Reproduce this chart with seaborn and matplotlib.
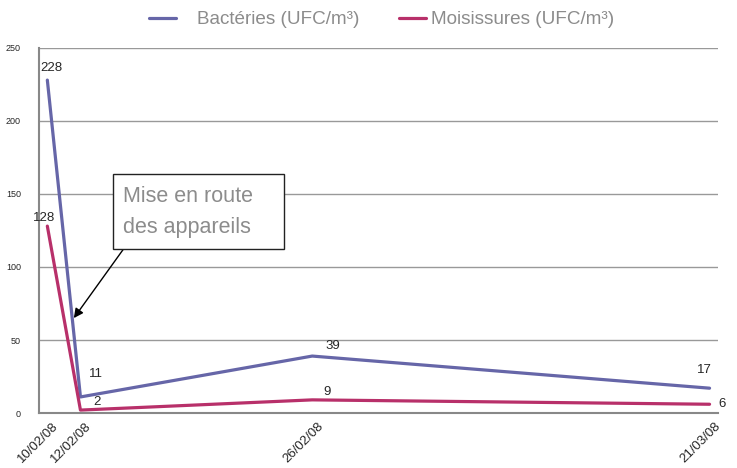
import matplotlib
matplotlib.use("Agg")
import matplotlib.pyplot as plt
import numpy as np
import pandas as pd
import seaborn as sns
from matplotlib.lines import Line2D
from matplotlib.patches import Rectangle

# data
dates = ["10/02/08", "12/02/08", "26/02/08", "21/03/08"]
day_offsets = [0, 2, 16, 40]  # days since 10/02/08
bacteries = [228, 11, 39, 17]
moisissures = [128, 2, 9, 6]
series_names = ["Bactéries (UFC/m³)", "Moisissures (UFC/m³)"]
colors = ["#6666A8", "#B8306A"]

df = pd.DataFrame({
    "jour": day_offsets * 2,
    "valeur": bacteries + moisissures,
    "serie": [series_names[0]] * 4 + [series_names[1]] * 4,
})

sns.set_style("white")
plt.rcParams["font.family"] = ["Liberation Sans", "DejaVu Sans"]
light_color = "#8c8c8c"

fig = plt.figure(figsize=(7.37, 4.68), dpi=100)
ax = fig.add_axes([0.053, 0.1175, 0.921, 0.78])

sns.lineplot(data=df, x="jour", y="valeur", hue="serie", palette=colors,
             linewidth=2.3, ax=ax, legend=False)

ax.set_xlim(-0.5, 40.5)
ax.set_ylim(0, 250)
ax.set_yticks(np.arange(0, 251, 50))
ax.yaxis.grid(True, color="#999999", linewidth=1)
ax.set_axisbelow(True)
ax.tick_params(axis="y", labelsize=6.5, length=0, pad=13)

# tick marks every 2 days, labels only at sample dates
ax.set_xticks(np.arange(-0.5, 40.6, 2))
ax.set_xticklabels([])
ax.tick_params(axis="x", length=4, color="#888888", width=1.2, direction="out")
for d, lab in zip(day_offsets, dates):
    ax.text(d + 0.3, -5, lab, rotation=45, ha="right", va="top",
            rotation_mode="anchor", fontsize=9.5, clip_on=False)

for side in ["top", "right"]:
    ax.spines[side].set_visible(False)
for side in ["left", "bottom"]:
    ax.spines[side].set_color("#888888")
    ax.spines[side].set_linewidth(1.5)
ax.set_xlabel("")
ax.set_ylabel("")

# value labels
offsets_b = [(3, 9), (11.5, 16.5), (15, 7), (-4, 13)]
offsets_m = [(-2, 6), (12, 6), (11, 6), (9, 0.5)]
for vals, offs in [(bacteries, offsets_b), (moisissures, offsets_m)]:
    for d, v, off in zip(day_offsets, vals, offs):
        ax.annotate(str(v), (d, v), xytext=off, textcoords="offset points",
                    ha="center", va="center", fontsize=9.5)

# callout box + arrow
ax.add_patch(Rectangle((3.98, 112.3), 10.3, 51.4, fc="white", ec="#222222",
                       lw=1, zorder=5))
ax.text(4.6, 155.5, "Mise en route\ndes appareils", fontsize=15.5,
        color=light_color, ha="left", va="top", linespacing=1.6, zorder=6)
ax.annotate("", xy=(1.6, 65), xytext=(4.6, 112.3),
            arrowprops=dict(arrowstyle="-|>", color="black", lw=1,
                            shrinkA=0, shrinkB=0, mutation_scale=14))

# legend, one entry per legend to match the uneven spacing
legend_x = [0.202, 0.541]
legend_pad = [1.08, 0.26]
for name, c, x0, pad in zip(series_names, colors, legend_x, legend_pad):
    leg = fig.legend([Line2D([0], [0], color=c, lw=2.3)], [name],
                     loc="center left", bbox_to_anchor=(x0, 0.958),
                     frameon=False, fontsize=13.6, handlelength=1.45,
                     handletextpad=pad, borderpad=0, borderaxespad=0)
    for t in leg.get_texts():
        t.set_color(light_color)

fig.savefig("out.png", dpi=100)
